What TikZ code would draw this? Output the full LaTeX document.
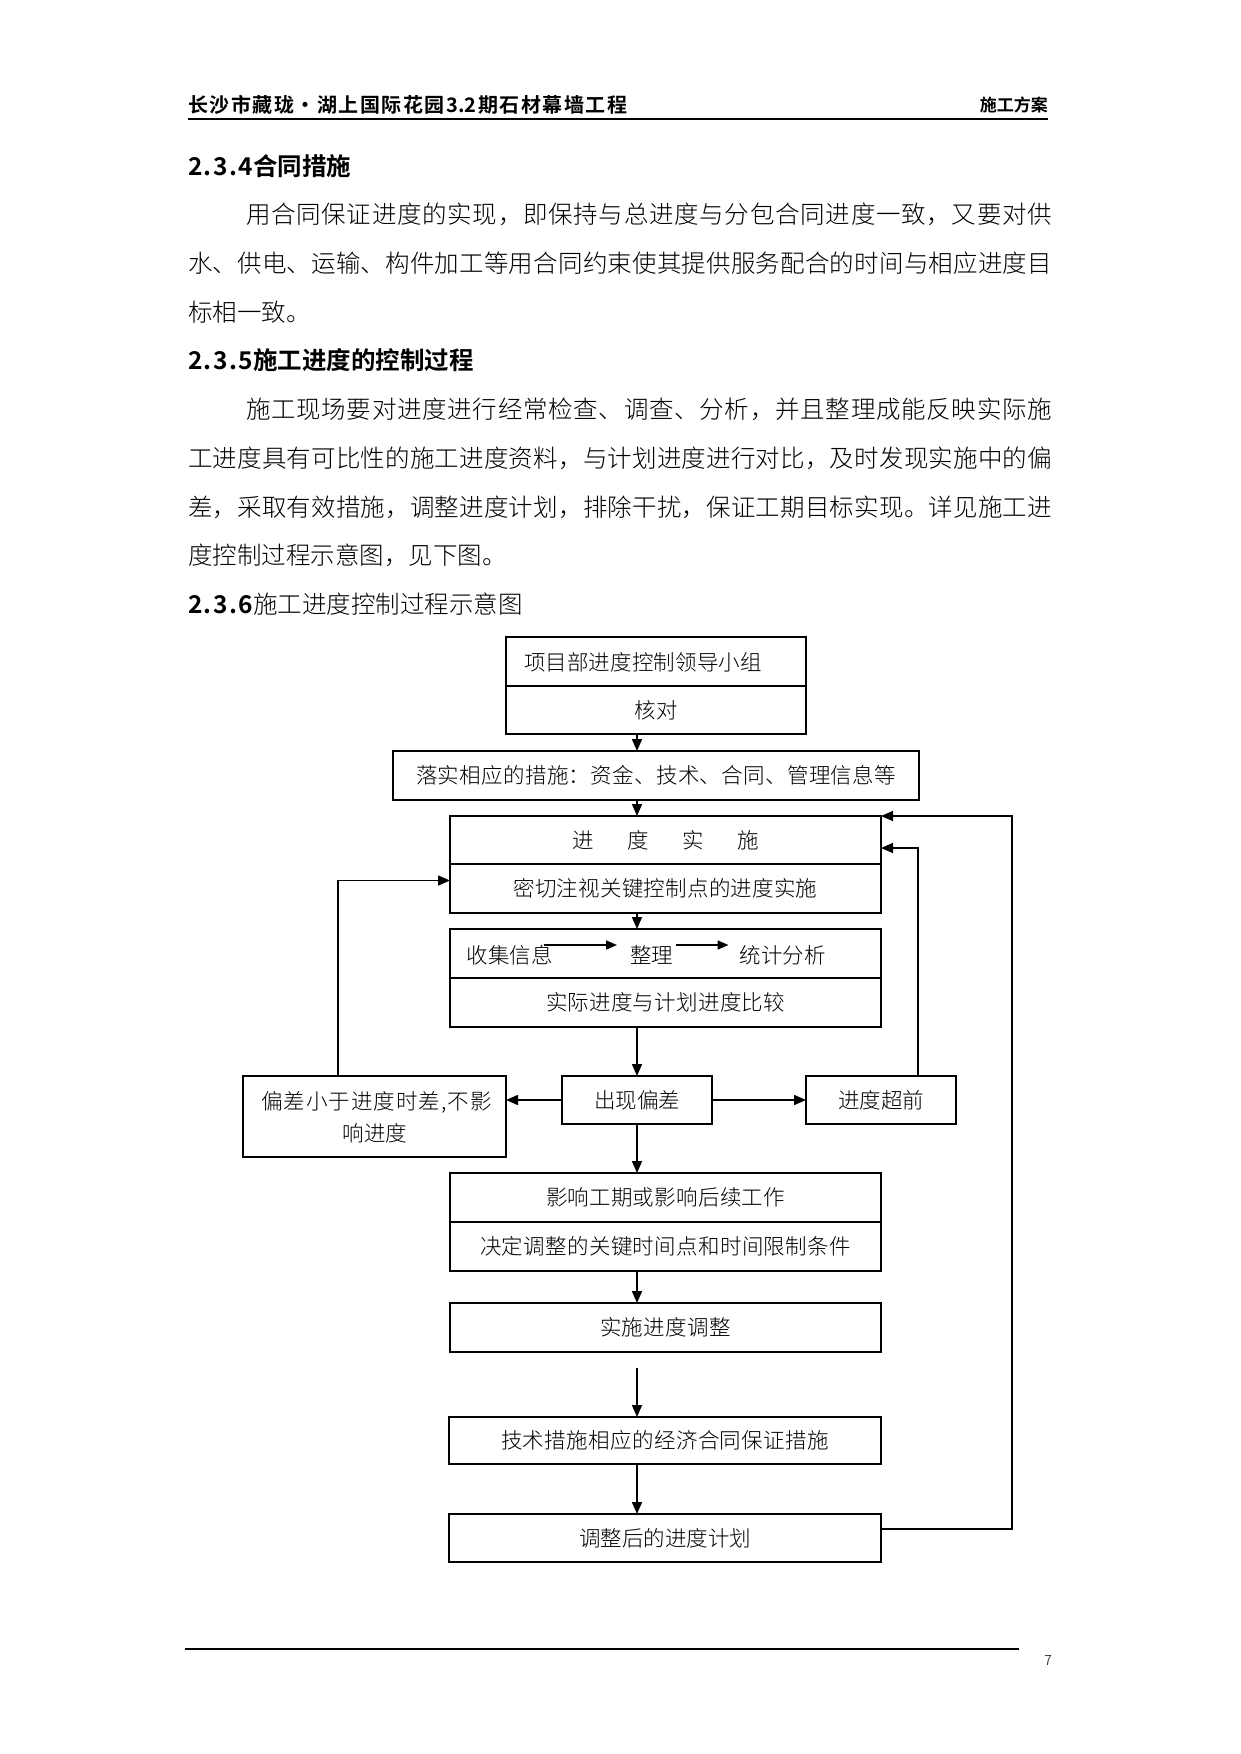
\documentclass[tikz,border=0pt]{standalone}
\usepackage{fontspec}
\setmainfont{Noto Sans CJK SC Light}[BoldFont={Noto Sans CJK SC Bold}]
\usetikzlibrary{arrows.meta,calc}
\def\SpEnd{\relax}
\def\SpA#1{#1\SpB}
\def\SpB#1{\def\SpTmp{#1}\ifx\SpTmp\SpEnd\else\hskip 0pt plus 1fil\relax#1\expandafter\SpB\fi}
\newcommand\sprd[2]{\hbox to #1{\SpA#2\relax}}
\newcommand\dfont{\fontsize{21.5}{24}\selectfont}
\newcommand\bfont{\fontsize{24.5}{27}\selectfont}
\tikzset{
  box/.style={draw, line width=1.6pt, inner sep=0pt, outer sep=0pt, font=\dfont},
  txt/.style={inner sep=0pt, outer sep=0pt, font=\dfont},
  line/.style={anchor=west, inner sep=0pt, outer sep=0pt, font=\bfont},
  arr/.style={line width=1.6pt, -{Triangle[length=12pt,width=10pt]}},
  sarr/.style={line width=1.6pt, -{Triangle[length=11pt,width=9pt]}},
}
\begin{document}
\begin{tikzpicture}[x=1pt,y=-1pt]
\fill[white] (0,0) rectangle (1241,1754);
\useasboundingbox (0,0) rectangle (1241,1754);

% header
\node[anchor=west, inner sep=0pt, font=\bfseries\fontsize{20}{22}\selectfont] (hdr) at (188,105)
  {\sprd{439pt}{长沙市藏珑·湖上国际花园{3.2}期石材幕墙工程}};
\node[anchor=east, inner sep=0pt, font=\bfseries\fontsize{17}{20}\selectfont] (hdr2) at (1048,105) {施工方案};
\coordinate (hl) at (188,119);
\coordinate (hr) at (1048,119);
\draw[line width=1.5pt] (hl) -- (hr);

% body text
\node[line] (h1) at (188,166) {\bfseries\sprd{65pt}{2.3.4}合同措施};
\node[line] (p1) at (246,214) {\sprd{806pt}{用合同保证进度的实现，即保持与总进度与分包合同进度一致，又要对供}};
\node[line] (p2) at (188,263) {\sprd{864pt}{水、供电、运输、构件加工等用合同约束使其提供服务配合的时间与相应进度目}};
\node[line] (p3) at (188,312) {标相一致。};
\node[line] (h2) at (188,360) {\bfseries\sprd{65pt}{2.3.5}施工进度的控制过程};
\node[line] (p4) at (246,409) {\sprd{806pt}{施工现场要对进度进行经常检查、调查、分析，并且整理成能反映实际施}};
\node[line] (p5) at (188,458) {\sprd{864pt}{工进度具有可比性的施工进度资料，与计划进度进行对比，及时发现实施中的偏}};
\node[line] (p6) at (188,507) {\sprd{864pt}{差，采取有效措施，调整进度计划，排除干扰，保证工期目标实现。详见施工进}};
\node[line] (p7) at (188,555) {度控制过程示意图，见下图。};
\node[line] (h3) at (188,604) {{\bfseries\sprd{65pt}{2.3.6}}施工进度控制过程示意图};

% diagram boxes
\node[box, minimum width=300pt, minimum height=49pt] (A1) at (656,661.5) {};
\node[txt] (tA) at (643,662) {\sprd{238pt}{项目部进度控制领导小组}};
\node[box, minimum width=300pt, minimum height=48pt] (A2) at (656,710) {核对};
\node[box, minimum width=526pt, minimum height=49pt] (B) at (656,775.5) {\sprd{480pt}{落实相应的措施：资金、技术、合同、管理信息等}};
\node[box, minimum width=431pt, minimum height=48pt] (C1) at (665.5,840) {\sprd{187pt}{进度实施}};
\node[box, minimum width=431pt, minimum height=49pt] (C2) at (665.5,888.5) {\sprd{304pt}{密切注视关键控制点的进度实施}};
\node[box, minimum width=431pt, minimum height=49pt] (D1) at (665.5,953.5) {};
\node[txt] (t1) at (509.5,955) {收集信息};
\node[txt] (t2) at (651.5,955) {整理};
\node[txt] (t3) at (782.5,955) {统计分析};
\node[box, minimum width=431pt, minimum height=49pt] (D2) at (665.5,1002.5) {\sprd{239pt}{实际进度与计划进度比较}};
\node[box, minimum width=150pt, minimum height=48pt] (E) at (637,1100) {出现偏差};
\node[box, minimum width=263pt, minimum height=81pt] (L) at (374.5,1116.5) {};
\node[txt] (tL1) at (376.5,1102) {\sprd{231pt}{偏差小于进度时差,不影}};
\node[txt] (tL2) at (375,1133) {响进度};
\node[box, minimum width=150pt, minimum height=48pt] (R) at (881,1100) {进度超前};
\node[box, minimum width=431pt, minimum height=49pt] (F1) at (665.5,1197.5) {\sprd{239pt}{影响工期或影响后续工作}};
\node[box, minimum width=431pt, minimum height=49pt] (F2) at (665.5,1246.5) {\sprd{371pt}{决定调整的关键时间点和时间限制条件}};
\node[box, minimum width=431pt, minimum height=49pt] (G) at (665.5,1327.5) {\sprd{131pt}{实施进度调整}};
\node[box, minimum width=432pt, minimum height=47pt] (H) at (665,1440.5) {\sprd{328pt}{技术措施相应的经济合同保证措施}};
\node[box, minimum width=432pt, minimum height=48pt] (I) at (665,1538) {\sprd{172pt}{调整后的进度计划}};

% connectors
\draw[arr] (A2.south -| E) -- (B.north -| E);
\draw[arr] (B.south -| E) -- (C1.north -| E);
\draw[arr] (C2.south -| E) -- (D1.north -| E);
\draw[sarr] ($(t1.east)+(-9,-10)$) -- ($(t2.west)+(-13,-10)$);
\draw[sarr] ($(t2.east)+(3,-10)$) -- ($(t3.west)+(-11,-10)$);
\draw[arr] (D2.south -| E) -- (E.north);
\draw[arr] (E.west) -- (E.west -| L.east);
\draw[arr] (E.east) -- (R.west);
\draw[arr] (E.south) -- (F1.north -| E);
\draw[arr] (F2.south -| E) -- (G.north -| E);
\draw[arr] ($(G.south -| E)+(0,16)$) -- (H.north -| E);
\draw[arr] (H.south -| E) -- (I.north -| E);
\draw[arr] ($(L.north west)+(95,0)$) |- ($(C2.west)+(0,-8)$);
\draw[arr] ($(R.north)+(37,0)$) |- ($(C1.east)+(0,8)$);
\draw[arr] ($(I.east)+(0,-9)$) -- ++(131,0) |- (C1.north east);

% footer
\coordinate (fl) at (185,1649);
\coordinate (fr) at (1019,1649);
\draw[line width=1.5pt] (fl) -- (fr);
\node[inner sep=0pt, font=\fontsize{14}{16}\selectfont] (pg) at (1048,1661) {7};
\end{tikzpicture}
\end{document}
